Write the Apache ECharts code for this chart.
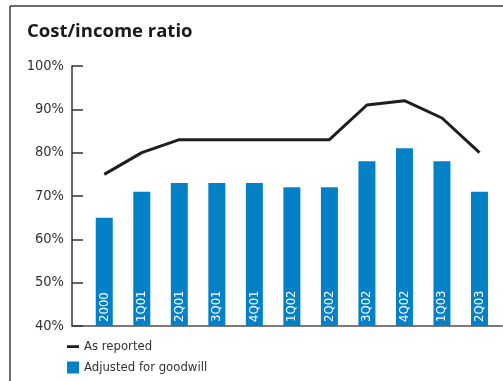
<!DOCTYPE html>
<html>
<head>
<meta charset="utf-8">
<script src="https://cdn.jsdelivr.net/npm/echarts@6/dist/echarts.min.js"></script>
<style>
html,body{margin:0;padding:0;background:#fff;}
#c{width:503px;height:381px;}
</style>
</head>
<body>
<div id="c"></div>
<script>
var categories = ['2000','1Q01','2Q01','3Q01','4Q01','1Q02','2Q02','3Q02','4Q02','1Q03','2Q03'];
var asReported = [75, 80, 83, 83, 83, 83, 83, 91, 92, 88, 80];
var adjusted = [65, 71, 73, 73, 73, 72, 72, 78, 81, 78, 71];
var yTicks = [40, 50, 60, 70, 80, 90, 100];

var condensed = '"Liberation Sans Narrow", "DejaVu Sans Condensed", "Roboto", sans-serif';

var chart = echarts.init(document.getElementById('c'), null, {renderer: 'canvas'});
chart.setOption({
  animation: false,
  backgroundColor: '#fff',
  title: {
    text: 'Cost/income ratio',
    left: 27, top: 22, padding: 0,
    textStyle: {fontFamily: '"Open Sans", "Liberation Sans", sans-serif', fontWeight: 'bold', fontSize: 18.5, color: '#1a1a1a'}
  },
  graphic: [
    {type: 'line', shape: {x1: 10, y1: 6, x2: 503, y2: 6}, style: {stroke: '#3a3a3a', lineWidth: 1.5}},
    {type: 'line', shape: {x1: 10, y1: 6, x2: 10, y2: 381}, style: {stroke: '#3a3a3a', lineWidth: 1.5}}
  ],
  legend: {
    orient: 'vertical',
    left: 67, top: 340, padding: 0,
    itemWidth: 12, itemHeight: 12, itemGap: 8,
    textStyle: {fontFamily: condensed, fontSize: 13, color: '#333', lineHeight: 13},
    data: [
      {name: 'As reported', icon: 'path://M0,0 L12,0 L12,0.01 Z M0,4.8 L12,4.8 L12,7.4 L0,7.4 Z M0,12 L12,12 L12,12.01 Z', itemStyle: {color: '#1e1e1e'}},
      {name: 'Adjusted for goodwill', icon: 'rect'}
    ]
  },
  grid: {left: 72, right: 1, top: 66, bottom: 55, containLabel: false},
  xAxis: {
    type: 'value', min: -0.86, max: 10.6,
    axisLine: {show: true, onZero: false, lineStyle: {color: '#7a7a7a', width: 2}},
    axisTick: {show: false}, axisLabel: {show: false}, splitLine: {show: false}
  },
  yAxis: {
    type: 'value', min: yTicks[0], max: yTicks[yTicks.length - 1], interval: 10,
    axisLine: {show: true, onZero: false, lineStyle: {color: '#333', width: 1.5}},
    axisTick: {show: true, inside: true, length: 11, lineStyle: {color: '#333', width: 1.5}},
    axisLabel: {formatter: '{value}%', margin: 8, fontFamily: condensed, fontSize: 14.5, color: '#333'},
    splitLine: {show: false}
  },
  series: [
    {
      name: 'Adjusted for goodwill', type: 'bar', barWidth: 17,
      itemStyle: {color: '#0380c6'},
      data: adjusted.map(function (v, i) { return [i, v]; }),
      label: {
        show: true, position: 'insideBottom', rotate: 90, distance: 4,
        align: 'left', verticalAlign: 'middle',
        formatter: function (p) { return categories[p.dataIndex]; },
        color: '#fff', fontFamily: condensed, fontSize: 13
      },
      z: 1
    },
    {
      name: 'As reported', type: 'line', symbol: 'none',
      lineStyle: {color: '#1e1e1e', width: 3},
      itemStyle: {color: '#1e1e1e'},
      data: asReported.map(function (v, i) { return [i, v]; }),
      z: 3
    }
  ]
});
</script>
</body>
</html>
